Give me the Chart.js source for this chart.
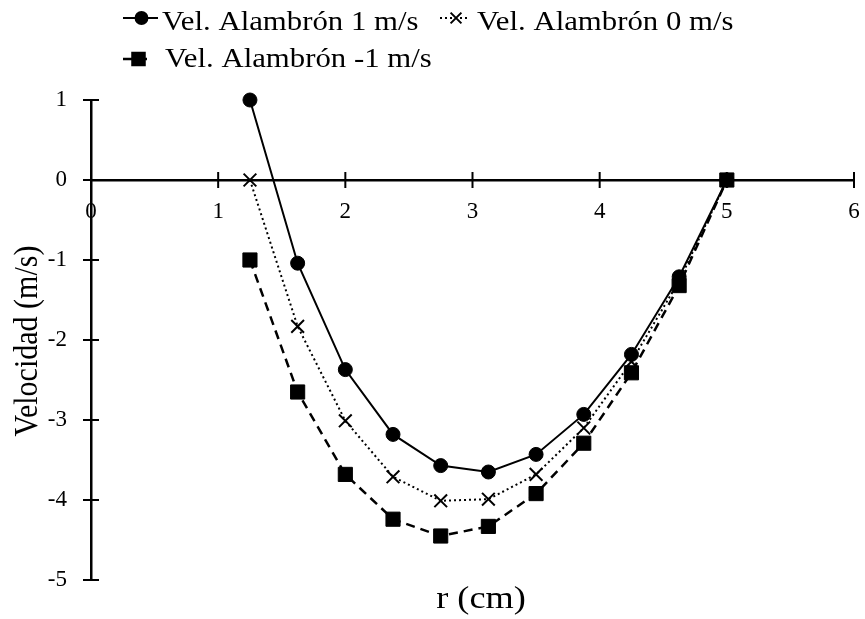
<!DOCTYPE html>
<html>
<head>
<meta charset="utf-8">
<script src="https://cdn.jsdelivr.net/npm/chart.js@4.4.0/dist/chart.umd.min.js"></script>
<style>
html, body { margin: 0; padding: 0; background: #fff; }
</style>
</head>
<body>
<canvas id="chart" width="865" height="619"></canvas>
<script>
// radial position (cm)
const radios = [1.25, 1.625, 2, 2.375, 2.75, 3.125, 3.5, 3.875, 4.25, 4.625, 5];
// velocity (m/s) for each wire speed
const velPos = [1, -1.04, -2.37, -3.18, -3.57, -3.65, -3.43, -2.93, -2.18, -1.21, 0];
const velCero = [0, -1.83, -3.01, -3.71, -4.01, -3.99, -3.68, -3.1, -2.27, -1.26, 0];
const velNeg = [-1, -2.65, -3.68, -4.24, -4.45, -4.33, -3.92, -3.29, -2.41, -1.32, 0];
const seriesLabels = ["Vel. Alambrón 1 m/s", "Vel. Alambrón 0 m/s", "Vel. Alambrón -1 m/s"];
const xTitle = "r (cm)";
const yTitle = "Velocidad (m/s)";

const serif = '"Liberation Serif", "Times New Roman", serif';

function toPoints(ys){
    return ys.map((y, i) => ({x: radios[i], y: y}));
}

// text in the original is a bit wider than Times, so stretch it a little
function wideText(ctx, text, x, y, stretch){
    ctx.save();
    ctx.translate(x, y);
    ctx.scale(stretch, 1);
    ctx.fillText(text, 0, 0);
    ctx.restore();
}

// little tick marks that cross both axes (Excel style)
const crossTicks = {
    id: "crossTicks",
    afterDraw(chart){
        const ctx = chart.ctx;
        const xs = chart.scales.x;
        const ys = chart.scales.y;
        const y0 = ys.getPixelForValue(0);
        const x0 = xs.getPixelForValue(0);
        ctx.save();
        ctx.strokeStyle = "#000";
        ctx.lineWidth = 2;
        xs.ticks.forEach(t => {
            if (t.value === 0) return;
            const px = xs.getPixelForValue(t.value);
            ctx.beginPath();
            ctx.moveTo(px, y0 - 8);
            ctx.lineTo(px, y0 + 8);
            ctx.stroke();
        });
        ys.ticks.forEach(t => {
            const py = ys.getPixelForValue(t.value);
            ctx.beginPath();
            ctx.moveTo(x0 - 8, py);
            ctx.lineTo(x0 + 8, py);
            ctx.stroke();
        });
        ctx.restore();
    }
};

// axis titles, drawn by hand because the x axis sits at y = 0
const axisTitles = {
    id: "axisTitles",
    afterDraw(chart){
        const ctx = chart.ctx;
        ctx.save();
        ctx.fillStyle = "#000";
        ctx.textAlign = "center";
        ctx.textBaseline = "middle";
        ctx.font = "31px " + serif;
        wideText(ctx, xTitle, 481, 600, 1.17);
        ctx.translate(28, 341);
        ctx.rotate(-Math.PI / 2);
        ctx.scale(1, 1.12);
        ctx.font = "30px " + serif;
        ctx.fillText(yTitle, 0, 0);
        ctx.restore();
    }
};

// legend on top: line sample + marker + label
const legendSpots = [
    {index: 0, x: 123, y: 18, w: 35, tx: 162, ty: 30},
    {index: 1, x: 440, y: 18, w: 30, tx: 477, ty: 30},
    {index: 2, x: 123, y: 59, w: 29, tx: 165, ty: 67}
];
const topLegend = {
    id: "topLegend",
    afterDraw(chart){
        const ctx = chart.ctx;
        ctx.save();
        legendSpots.forEach(spot => {
            const ds = chart.data.datasets[spot.index];
            ctx.strokeStyle = "#000";
            ctx.fillStyle = "#000";
            ctx.lineWidth = ds.borderWidth;
            ctx.setLineDash(ds.borderDash || []);
            ctx.beginPath();
            ctx.moveTo(spot.x, spot.y);
            ctx.lineTo(spot.x + spot.w, spot.y);
            ctx.stroke();
            ctx.setLineDash([]);
            Chart.helpers.drawPoint(ctx, {
                pointStyle: ds.pointStyle,
                radius: ds.pointRadius * 0.85,
                rotation: 0,
                borderWidth: ds.pointBorderWidth
            }, spot.x + spot.w / 2 + 1, spot.y);
            ctx.font = "27px " + serif;
            ctx.textAlign = "left";
            ctx.textBaseline = "alphabetic";
            wideText(ctx, ds.label, spot.tx, spot.ty, 1.14);
        });
        ctx.restore();
    }
};

const chart = new Chart(document.getElementById("chart").getContext("2d"), {
    type: "line",
    data: {
        datasets: [
            {
                label: seriesLabels[0],
                data: toPoints(velPos),
                borderColor: "#000",
                backgroundColor: "#000",
                borderWidth: 2,
                pointStyle: "circle",
                pointRadius: 7,
                pointBorderWidth: 1,
                clip: false
            },
            {
                label: seriesLabels[1],
                data: toPoints(velCero),
                borderColor: "#000",
                backgroundColor: "#000",
                borderWidth: 2,
                borderDash: [2, 3],
                pointStyle: "crossRot",
                pointRadius: 9,
                pointBorderWidth: 2,
                clip: false
            },
            {
                label: seriesLabels[2],
                data: toPoints(velNeg),
                borderColor: "#000",
                backgroundColor: "#000",
                borderWidth: 2.5,
                borderDash: [9, 6],
                pointStyle: "rect",
                pointRadius: 10,
                pointBorderWidth: 1,
                clip: false
            }
        ]
    },
    options: {
        responsive: false,
        animation: false,
        events: [],
        layout: {padding: {left: 0, top: 100, right: 9, bottom: 39}},
        plugins: {legend: {display: false}, tooltip: {enabled: false}},
        scales: {
            x: {
                type: "linear",
                position: {y: 0},
                min: 0,
                max: 6,
                ticks: {stepSize: 1, padding: 18, color: "#000", font: {family: serif, size: 23}},
                grid: {display: true, drawOnChartArea: false, drawTicks: false},
                border: {color: "#000", width: 2.5},
                afterFit: s => { s.paddingLeft = 0; s.paddingRight = 0; }
            },
            y: {
                min: -5,
                max: 1,
                ticks: {stepSize: 1, padding: 24, color: "#000", font: {family: serif, size: 23}},
                grid: {display: true, drawOnChartArea: false, drawTicks: false},
                border: {color: "#000", width: 2.5},
                afterFit: s => { s.width = 91; }
            }
        }
    },
    plugins: [crossTicks, axisTitles, topLegend]
});
</script>
</body>
</html>
